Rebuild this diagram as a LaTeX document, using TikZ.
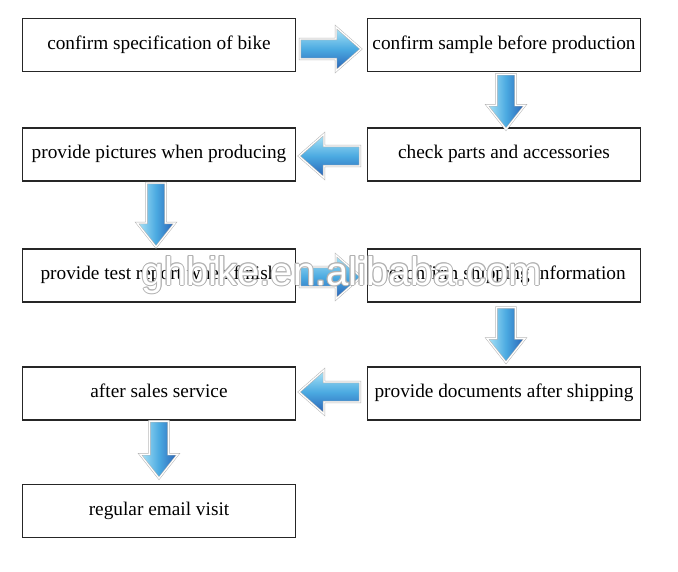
\documentclass[tikz,border=0pt]{standalone}
\usepackage{fontspec}
\setmainfont{Liberation Serif}
\newfontfamily\wmfont{Liberation Sans}
\usetikzlibrary{calc}
\definecolor{alight}{RGB}{175,230,248}
\definecolor{amid}{RGB}{75,170,225}
\definecolor{adark}{RGB}{40,95,180}
\tikzset{
 stepbox/.style={draw=black!85, line width=1.3pt, fill=white, minimum width=273pt, minimum height=53pt, inner sep=0pt, text height=13pt, text depth=5pt, font=\fontsize{19.3}{22}\selectfont},
 blockarr/.style={draw=black!30, double=white, double distance=1.2pt, line width=0.5pt, line join=miter},
 harr/.style={blockarr, top color=alight, bottom color=adark, middle color=amid},
 varr/.style={blockarr, left color=alight, right color=adark, middle color=amid},
 wmark/.style={font=\wmfont\fontsize{40}{40}\selectfont, inner sep=0pt, anchor=base},
}
\newcommand\HArrow[2]{\begin{scope}[shift={(#1)}, xscale=#2]
  \path[harr] (-30.5,-10) -- (5.5,-10) -- (5.5,-22) -- (30.5,0) -- (5.5,22) -- (5.5,10) -- (-30.5,10) -- cycle;
\end{scope}}
\newcommand\VArrow[2]{\begin{scope}[shift={(#1)}]
  \path[varr] (-9.5,{-#2/2}) -- (9.5,{-#2/2}) -- (9.5,{#2/2-24}) -- (19,{#2/2-24}) -- (0,{#2/2}) -- (-19,{#2/2-24}) -- (-9.5,{#2/2-24}) -- cycle;
\end{scope}}
\begin{document}
\begin{tikzpicture}[x=1pt,y=-1pt]
\fill[white] (0,0) rectangle (678,571);
\useasboundingbox (0,0) rectangle (678,571);
\node[stepbox] (b1) at (159,45) {confirm specification of bike};
\node[stepbox] (b2) at (504,45) {confirm sample before production};
\node[stepbox] (b3) at (504,154.5) {check parts and accessories};
\node[stepbox] (b4) at (159,154.5) {provide pictures when producing};
\node[stepbox] (b5) at (159,275.5) {provide test report when finish};
\node[stepbox] (b6) at (504,275.5) {reconfirm shipping information};
\node[stepbox] (b7) at (504,393.5) {provide documents after shipping};
\node[stepbox] (b8) at (159,393.5) {after sales service};
\node[stepbox] (b9) at (159,511) {regular email visit};
\coordinate (a1) at ($(b1.east)!0.5!(b2.west)+(-1,4)$);
\coordinate (a2) at ($(b2.south)!0.5!(b3.north)+(2,2)$);
\coordinate (a3) at ($(b3.west)!0.5!(b4.east)+(-2,1.5)$);
\coordinate (a4) at ($(b4.south)!0.5!(b5.north)+(-3,0)$);
\coordinate (a5) at ($(b5.east)!0.5!(b6.west)+(-1,1.5)$);
\coordinate (a6) at ($(b6.south)!0.5!(b7.north)+(2,0.5)$);
\coordinate (a7) at ($(b7.west)!0.5!(b8.east)+(-2,-1.5)$);
\coordinate (a8) at ($(b8.south)!0.5!(b9.north)+(0,-2.5)$);
\HArrow{a1}{1}
\VArrow{a2}{55}
\HArrow{a3}{-1}
\VArrow{a4}{64}
\HArrow{a5}{1}
\VArrow{a6}{55}
\HArrow{a7}{-1}
\VArrow{a8}{57}
\foreach \dx/\dy [count=\i] in {1/0,-1/0,0/1,0/-1,0.7/0.7,-0.7/0.7,0.7/-0.7,-0.7/-0.7}
  \node[wmark, text=black!30] (wms\i) at (342+\dx,285+\dy) {ghbike.en.alibaba.com};
\node[wmark, text=white] (wm) at (342,285) {ghbike.en.alibaba.com};
\end{tikzpicture}
\end{document}
